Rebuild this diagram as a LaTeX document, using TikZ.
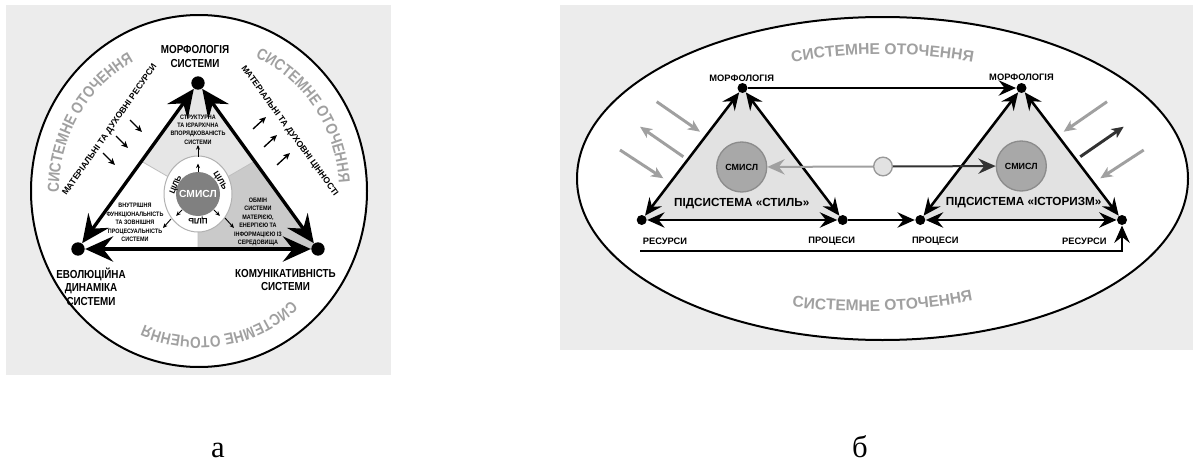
\documentclass[tikz,border=0pt]{standalone}
\usepackage{fontspec}
\setmainfont{Liberation Sans}
\newfontfamily\capfont{Liberation Serif}
\newfontfamily\narrowfont[FakeStretch=0.85]{Liberation Sans}
\usetikzlibrary{arrows.meta,positioning,decorations.text}

\definecolor{panelgray}{RGB}{236,236,236}
\definecolor{trigray}{RGB}{226,226,226}
\definecolor{sectorlight}{RGB}{230,230,230}
\definecolor{sectordark}{RGB}{202,202,202}
\definecolor{diskgray}{RGB}{128,128,128}
\definecolor{ringtext}{RGB}{160,160,160}
\definecolor{smyslfill}{RGB}{168,168,168}
\definecolor{smysldraw}{RGB}{140,140,140}
\definecolor{darkline}{RGB}{50,50,50}

\newcommand{\envfont}{\bfseries\fontsize{11.7}{12}\selectfont}
\newcommand{\ringfont}{\narrowfont\bfseries\fontsize{12}{12}\selectfont}

\tikzset{every picture/.style={line width=0.75pt},
  bigtip/.tip={Stealth[length=21pt,width=19pt,inset=7.5pt]},
  medtip/.tip={Stealth[length=13pt,width=11.5pt,inset=4.5pt]},
  graytip/.tip={Stealth[length=9pt,width=8pt,inset=2.5pt]},
  smalltip/.tip={Stealth[length=5pt,width=4.5pt,inset=1.2pt]},
  dot/.style={circle,fill=black,inner sep=0pt,minimum size=10pt},
  sdot/.style={circle,fill=black,inner sep=0pt,minimum size=7.5pt},
  bigside/.style={line width=2.5pt,bigtip-bigtip},
  medside/.style={line width=1.9pt,medtip-medtip},
  medlink/.style={line width=1.9pt,-medtip},
  grayarrow/.style={line width=2.2pt,color=ringtext,-graytip},
  darkarrow/.style={line width=2.2pt,color=darkline,-graytip},
  smallarrow/.style={line width=1pt,-smalltip},
  tinyarrow/.style={line width=0.7pt,-{Stealth[length=3.5pt,width=3pt]}},
  divider/.style={line width=0.6pt,color=black!25},
  vlabel/.style={font=\narrowfont\bfseries\fontsize{8.7}{10}\selectfont,align=center,inner sep=0.75pt},
  tinytext/.style={font=\narrowfont\bfseries\fontsize{4.8}{6.3}\selectfont,align=center,inner sep=0.75pt},
  sidetext/.style={font=\bfseries\fontsize{6.5}{7}\selectfont,inner sep=0.75pt},
  goal/.style={font=\bfseries\fontsize{6}{7}\selectfont,inner sep=0.5pt},
  ptlabel/.style={font=\bfseries\fontsize{7}{8}\selectfont,inner sep=0.75pt},
  subsys/.style={font=\bfseries\fontsize{8.8}{10}\selectfont,inner sep=0.75pt},
  smyslnode/.style={circle,fill=smyslfill,draw=smysldraw,line width=1pt,minimum size=37.5pt,inner sep=0pt,font=\bfseries\fontsize{6.7}{8}\selectfont},
  hub/.style={circle,fill=trigray,draw=black!40,line width=1pt,minimum size=14pt,inner sep=0pt},
  caption/.style={font=\capfont\fontsize{23}{26}\selectfont,inner sep=0pt,anchor=base}
}

\begin{document}
\begin{tikzpicture}[x=0.75pt,y=0.75pt,yscale=-1,xscale=1]
\useasboundingbox (0,0) rectangle (1197,464);

%%%%%%%% panel a
%Shape: Rectangle
\fill[panelgray] (6,5) rectangle (391,375);
%Shape: Circle
\draw[line width=1.5pt,fill=white] (199,191) ellipse [x radius=168,y radius=176];
\coordinate (ctr) at (198,194);
\coordinate (ringc) at (199,191);
%Shape: sectors
\fill[sectorlight] (ctr) -- (141,161) -- (198,83) -- (255,161) -- cycle;
\fill[sectordark] (ctr) -- (255,161) -- (318,249) -- (198,249) -- cycle;
\draw[divider] (ctr) -- (141,161) (ctr) -- (255,161) (ctr) -- (198,249);
%Shape: ring
\draw[black!30,fill=white] (ctr) ellipse [x radius=34,y radius=38];
\node[circle,fill=diskgray,minimum size=33pt,inner sep=0pt,text=white,font=\bfseries\fontsize{7.7}{9}\selectfont] (smysl) at (ctr) {СМИСЛ};

% vertices
\node[dot] (morph) at (198,83) {};
\node[dot] (evol) at (78,249) {};
\node[dot] (comm) at (318,249) {};
%Straight Lines
\draw[bigside] (morph) -- (evol);
\draw[bigside] (morph) -- (comm);
\draw[bigside] (evol) -- (comm);

%Straight Lines (small arrows round the centre)
\draw[tinyarrow] (smysl.north) -- ++(0,-8);
\draw[tinyarrow] (smysl.-135) -- ++(-6,6);
\draw[tinyarrow] (smysl.-45) -- ++(6,6);
\draw[tinyarrow] (198,157) -- (198,145);
\draw[tinyarrow] (171,219) -- (163,228);
\draw[tinyarrow] (225,218) -- (234,228);
\foreach \x/\y in {130/120,116/136,103/153}
  \draw[smallarrow] (\x,\y) -- ++(12,12);
\foreach \x/\y in {253/129,264/147,277/165}
  \draw[smallarrow] (\x,\y) -- ++(13,-12);

% Text Node
\node[goal,rotate=67] (goal1) at (176,185) {ЦІЛЬ};
\node[goal,rotate=-58] (goal2) at (220,181) {ЦІЛЬ};
\node[goal,rotate=180] (goal3) at (198,220) {ЦІЛЬ};
\node[tinytext] (structure) at (198,129.5) {СТРУКТУРНА\\ТА ІЄРАРХІЧНА\\ВПОРЯДКОВАНІСТЬ\\СИСТЕМИ};
\node[tinytext] (inner) at (135,222.5) {ВНУТРІШНЯ\\ФУНКЦІОНАЛЬНІСТЬ\\ТА ЗОВНІШНЯ\\ПРОЦЕСУАЛЬНІСТЬ\\СИСТЕМИ};
\node[tinytext] (exchange) at (258,222) {ОБМІН\\СИСТЕМИ\\МАТЕРІЄЮ,\\ЕНЕРГІЄЮ ТА\\ІНФОРМАЦІЄЮ ІЗ\\СЕРЕДОВИЩА};
\node[sidetext,rotate=55] (resources) at (110,130) {МАТЕРІАЛЬНІ ТА ДУХОВНІ РЕСУРСИ};
\node[sidetext,rotate=-54] (values) at (289.5,131) {МАТЕРІАЛЬНІ ТА ДУХОВНІ ЦІННОСТІ};
\node[vlabel] (morphlabel) at (195,56.5) {МОРФОЛОГІЯ\\СИСТЕМИ};
\node[vlabel] (evollabel) at (91,286.5) {ЕВОЛЮЦІЙНА\\ДИНАМІКА\\СИСТЕМИ};
\node[vlabel] (commlabel) at (285.5,280) {КОМУНІКАТИВНІСТЬ\\СИСТЕМИ};

% Text along the circle
\path[decorate,decoration={text along path,text align=center,text color=ringtext,
  text={|\ringfont|СИСТЕМНЕ ОТОЧЕННЯ}}]
  ([shift={(-195:140 and 146)}]ringc) arc[start angle=-195,end angle=-103,x radius=140,y radius=146];
\path[decorate,decoration={text along path,text align=center,text color=ringtext,
  text={|\ringfont|СИСТЕМНЕ ОТОЧЕННЯ}}]
  ([shift={(-81:140 and 146)}]ringc) arc[start angle=-81,end angle=11,x radius=140,y radius=146];
\path[decorate,decoration={text along path,text align=center,text color=ringtext,
  text={|\ringfont|СИСТЕМНЕ ОТОЧЕННЯ}}]
  ([shift={(35:140 and 146)}]ringc) arc[start angle=35,end angle=127,x radius=140,y radius=146];

%%%%%%%% panel b
%Shape: Rectangle
\fill[panelgray] (560,5) rectangle (1193,350);
%Shape: Ellipse
\draw[line width=1.5pt,fill=white] (882.5,178.5) ellipse [x radius=305.5,y radius=161.5];
%Shape: Triangles
\fill[trigray] (742.5,88) -- (641.7,220) -- (842.7,220) -- cycle;
\fill[trigray] (1021.5,88) -- (920.3,220) -- (1122,220) -- cycle;

\node[sdot] (morphA) at (742.5,88) {};
\node[sdot] (resA) at (641.7,220) {};
\node[sdot] (procA) at (842.7,220) {};
\node[sdot] (morphB) at (1021.5,88) {};
\node[sdot] (procB) at (920.3,220) {};
\node[sdot] (resB) at (1122,220) {};
\coordinate (loopstart) at (640,251);

%Straight Lines
\draw[medside] (morphA) -- (resA);
\draw[medside] (morphA) -- (procA);
\draw[medside] (resA) -- (procA);
\draw[medside] (morphB) -- (procB);
\draw[medside] (morphB) -- (resB);
\draw[medside] (procB) -- (resB);
\draw[medlink] (morphA) -- (morphB);
\draw[medlink] (procA) -- (procB);
\draw[medlink] (loopstart) -| (resB);

%Shape: Circle
\node[smyslnode] (smyslA) at (741.7,167) {СМИСЛ};
\node[smyslnode] (smyslB) at (1021.3,166) {СМИСЛ};
\node[hub] (hub) at (883,166.5) {};
\draw[line width=1.5pt,color=ringtext,-medtip] (hub) -- (smyslA);
\draw[line width=1.5pt,color=darkline,-medtip] (hub) -- (smyslB);

%Straight Lines (outer arrows)
\draw[grayarrow] (656.7,101.7) -- (700,131.7);
\draw[grayarrow] (683.3,156.7) -- (640,126.7);
\draw[grayarrow] (620,150) -- (663.3,178.3);
\draw[grayarrow] (1107,101.7) -- (1063.7,131.7);
\draw[darkarrow] (1080.3,156.7) -- (1123.7,126.7);
\draw[grayarrow] (1143.7,150) -- (1100.3,178.3);

% Text Node
\node[ptlabel] (morphAlabel) at (741.7,78.5) {МОРФОЛОГІЯ};
\node[ptlabel] (morphBlabel) at (1021.5,77) {МОРФОЛОГІЯ};
\node[ptlabel] (resAlabel) at (665,241) {РЕСУРСИ};
\node[ptlabel] (procAlabel) at (831.7,241) {ПРОЦЕСИ};
\node[ptlabel] (procBlabel) at (935.3,241) {ПРОЦЕСИ};
\node[ptlabel] (resBlabel) at (1084.3,241) {РЕСУРСИ};
\node[subsys] (styleA) at (741.7,204) {ПІДСИСТЕМА «СТИЛЬ»};
\node[subsys] (styleB) at (1023.7,202.5) {ПІДСИСТЕМА «ІСТОРИЗМ»};

% Text along the ellipse
\path[decorate,decoration={text along path,text align=center,text color=ringtext,
  text={|\envfont|СИСТЕМНЕ ОТОЧЕННЯ}}]
  (783,64) .. controls (845,51) and (915,51) .. (982,64);
\path[decorate,decoration={text along path,text align=center,text color=ringtext,
  text={|\envfont|СИСТЕМНЕ ОТОЧЕННЯ}}]
  (785,306) .. controls (845,314) and (915,313) .. (980,299);

% Text Node
\node[caption] (capA) at (218,457) {а};
\node[caption] (capB) at (860,457) {б};

\end{tikzpicture}
\end{document}
